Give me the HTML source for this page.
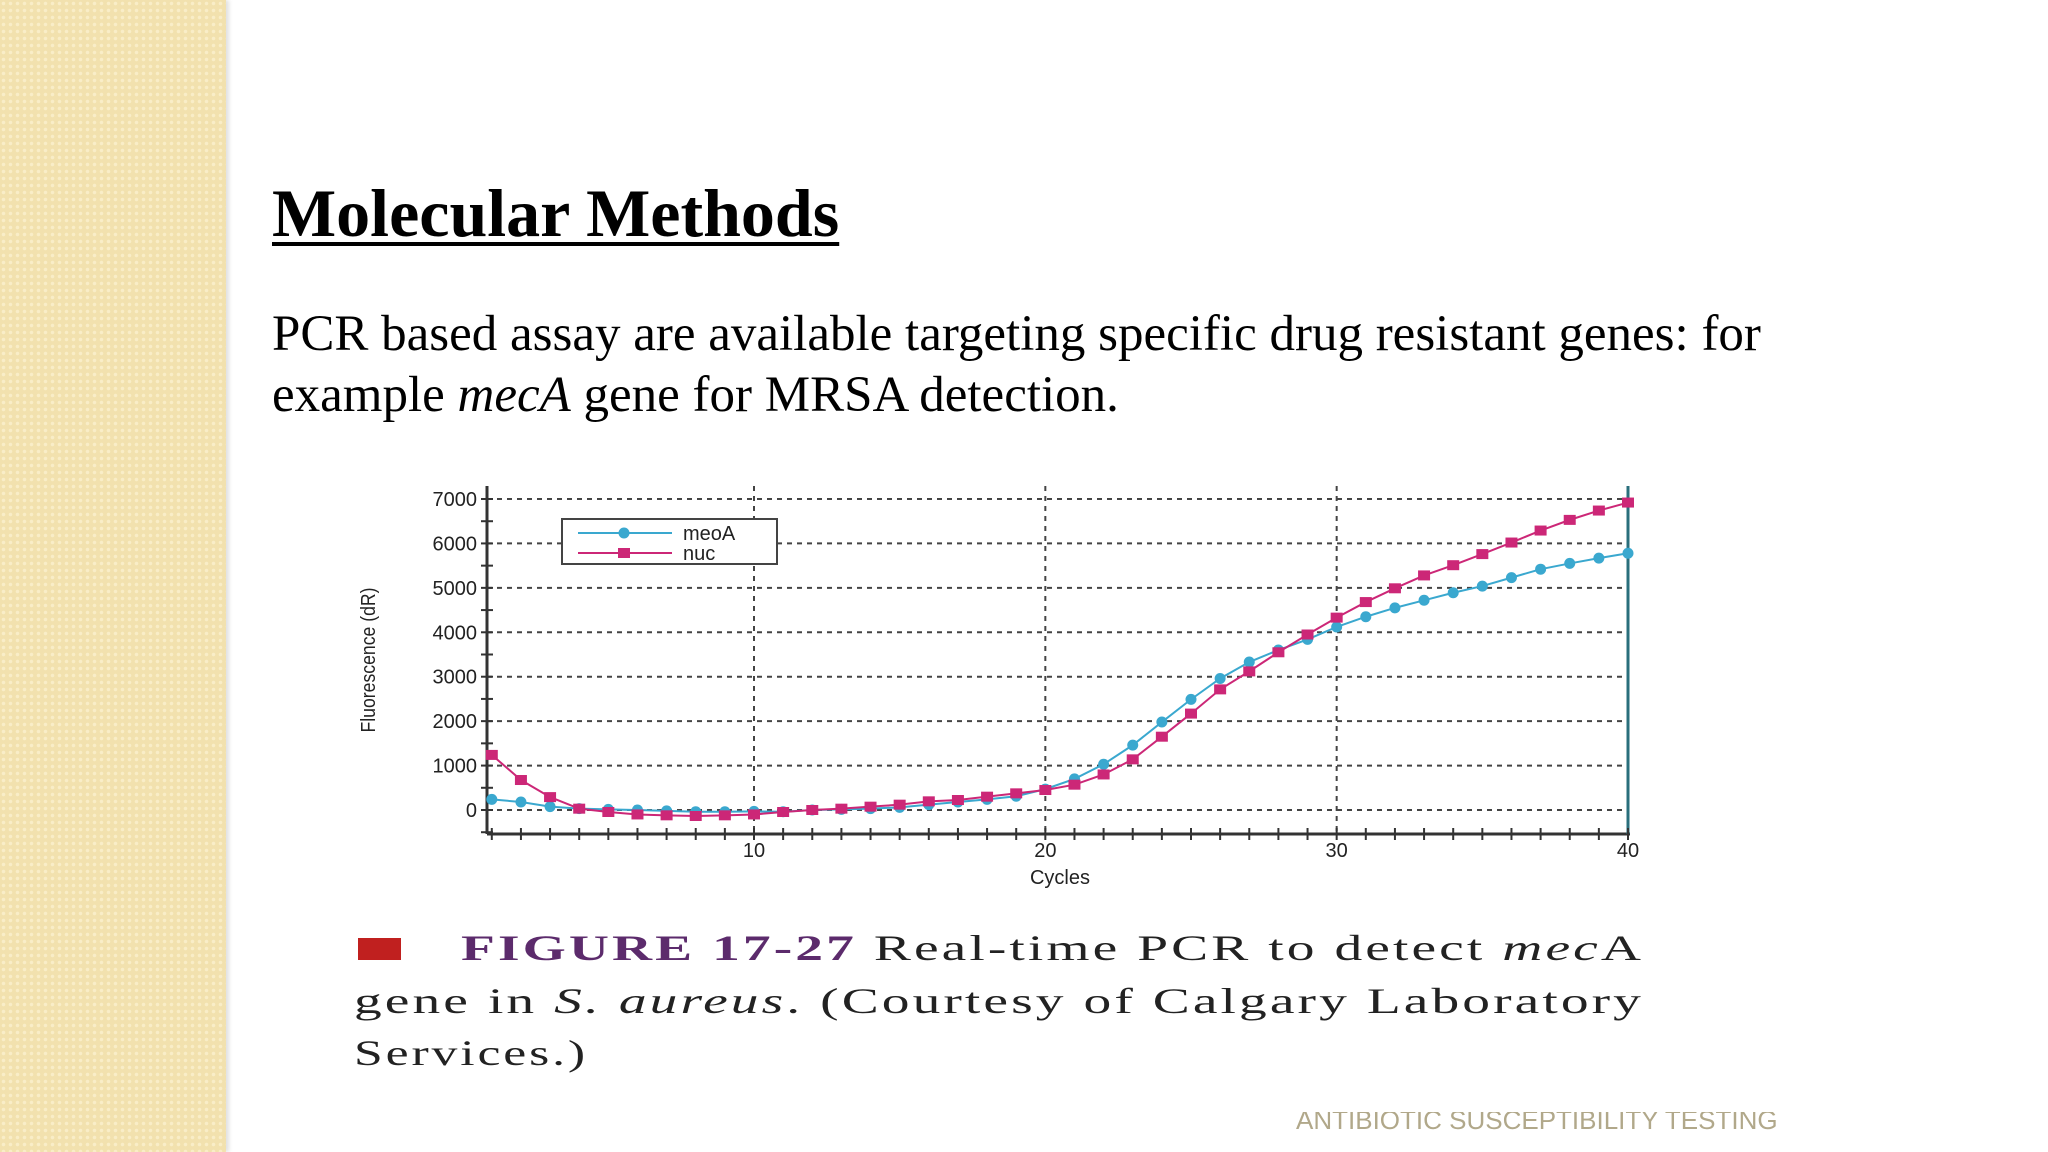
<!DOCTYPE html>
<html><head><meta charset="utf-8"><style>
html,body{margin:0;padding:0;}
body{width:2048px;height:1152px;position:relative;overflow:hidden;background:#fff;font-family:"Liberation Serif",serif;}
#strip{position:absolute;left:0;top:0;width:226px;height:1152px;background-color:#f2e1ae;background-image:radial-gradient(circle,#f9edc8 1.5px,transparent 2px);background-size:7px 7px;box-shadow:3px 0 4px rgba(0,0,0,0.12);}
#title{position:absolute;left:272px;top:174px;font-size:68px;font-weight:bold;text-decoration:underline;text-decoration-thickness:4px;text-underline-offset:6px;color:#000;white-space:nowrap;}
#body{position:absolute;left:272px;top:304px;font-size:51px;line-height:61px;color:#000;white-space:nowrap;}
#footer{position:absolute;left:1296px;top:1112px;height:18px;overflow:hidden;width:520px;}
#footer span{display:block;margin-top:-7px;font-family:"Liberation Sans",sans-serif;font-size:26px;color:#b1a88a;white-space:nowrap;}
</style></head><body>
<div id="strip"></div>
<div id="title">Molecular Methods</div>
<div id="body">PCR based assay are available targeting specific drug resistant genes: for<br>example <i>mecA</i> gene for MRSA detection.</div>
<svg id="chart" width="2048" height="1152" style="position:absolute;left:0;top:0" xmlns="http://www.w3.org/2000/svg">
<rect x="358" y="938" width="43" height="22" fill="#c0201f"/>
<text x="461" y="960" font-family="Liberation Serif,serif" font-size="36" letter-spacing="2" fill="#222" textLength="1183" lengthAdjust="spacingAndGlyphs"><tspan font-weight="bold" fill="#5c2b6c">FIGURE 17-27</tspan> Real-time PCR to detect <tspan font-style="italic">mec</tspan>A</text>
<text x="354" y="1013" font-family="Liberation Serif,serif" font-size="36" letter-spacing="2" fill="#222" textLength="1290" lengthAdjust="spacingAndGlyphs">gene in <tspan font-style="italic">S. aureus</tspan>. (Courtesy of Calgary Laboratory</text>
<text x="354" y="1065" font-family="Liberation Serif,serif" font-size="36" letter-spacing="2" fill="#222" textLength="234" lengthAdjust="spacingAndGlyphs">Services.)</text>
</svg>
<div id="footer"><span>ANTIBIOTIC SUSCEPTIBILITY TESTING</span></div>
<script>
const cycles=[];for(let i=1;i<=40;i++)cycles.push(i);
const meoA=[240,180,75,30,15,0,-20,-40,-40,-30,-40,0,15,30,60,120,180,240,310,470,700,1030,1460,1980,2490,2960,3330,3600,3840,4120,4350,4550,4720,4890,5040,5230,5420,5550,5670,5780];
const nuc=[1240,675,290,30,-45,-100,-120,-135,-120,-100,-45,0,30,75,120,195,225,300,375,450,570,800,1140,1650,2170,2715,3120,3550,3950,4330,4680,4990,5280,5510,5760,6020,6290,6530,6740,6920];
const yTicks=[0,1000,2000,3000,4000,5000,6000,7000];
const xTicks=[10,20,30,40];
const NS="http://www.w3.org/2000/svg";
const svg=document.getElementById('chart');
const X=c=>754+(c-10)*(1628-754)/30;
const Y=v=>810-v*(810-499)/7000;
function mk(t,a){const e=document.createElementNS(NS,t);for(const k in a)e.setAttribute(k,a[k]);svg.appendChild(e);return e;}
const x0=487,yB=834,yT=486,xR=1628;
yTicks.forEach(v=>{const l=mk('line',{x1:x0,x2:xR,y1:Y(v),y2:Y(v),stroke:'#444','stroke-width':2,'stroke-dasharray':'5,5'});


const t=mk('text',{x:477,y:Y(v)+7,'text-anchor':'end','font-family':'Liberation Sans,sans-serif','font-size':20,fill:'#222'});t.textContent=v;

});
xTicks.forEach(c=>{if(c<40){const l=mk('line',{x1:X(c),x2:X(c),y1:yT,y2:yB,stroke:'#444','stroke-width':2,'stroke-dasharray':'5,5'});

}
const t=mk('text',{x:X(c),y:857,'text-anchor':'middle','font-family':'Liberation Sans,sans-serif','font-size':20,fill:'#222'});t.textContent=c;

});
let a=mk('line',{x1:x0,x2:x0,y1:yT,y2:yB,stroke:'#333','stroke-width':3});
a=mk('line',{x1:x0,x2:xR+2,y1:yB,y2:yB,stroke:'#333','stroke-width':3});
a=mk('line',{x1:xR,x2:xR,y1:yT,y2:yB,stroke:'#2a6f7c','stroke-width':3});
for(let c=1;c<=40;c++){const l=mk('line',{x1:X(c),x2:X(c),y1:yB-6,y2:yB+6,stroke:'#333','stroke-width':2});}
for(let v=-500;v<=7000;v+=500){const l=mk('line',{x1:x0-6,x2:x0+6,y1:Y(v),y2:Y(v),stroke:'#333','stroke-width':2});}
let t=mk('text',{x:1060,y:884,'text-anchor':'middle','font-family':'Liberation Sans,sans-serif','font-size':20,fill:'#222'});t.textContent='Cycles';
t=mk('text',{x:375,y:660,'text-anchor':'middle','font-family':'Liberation Sans,sans-serif','font-size':20,fill:'#222',transform:'rotate(-90 375 660)',textLength:145,lengthAdjust:'spacingAndGlyphs'});t.textContent='Fluorescence (dR)';
function series(vals,color,shape,name){
 const p=mk('polyline',{points:vals.map((v,i)=>X(cycles[i])+','+Y(v)).join(' '),fill:'none',stroke:color,'stroke-width':2});
 
 
 vals.forEach((v,i)=>{let m;
  if(shape==='c')m=mk('circle',{cx:X(cycles[i]),cy:Y(v),r:5.5,fill:color});
  else m=mk('rect',{x:X(cycles[i])-6,y:Y(v)-5,width:12,height:10,fill:color});
  
  });
}
series(meoA,'#3aa8cf','c','meoA');
series(nuc,'#cc2777','s','nuc');
let g=mk('rect',{x:562,y:519,width:215,height:45,fill:'#fff',stroke:'#444','stroke-width':2});
mk('line',{x1:578,x2:672,y1:533,y2:533,stroke:'#3aa8cf','stroke-width':2});
mk('circle',{cx:624,cy:533,r:5.5,fill:'#3aa8cf'});
mk('line',{x1:578,x2:672,y1:553,y2:553,stroke:'#cc2777','stroke-width':2});
mk('rect',{x:618,y:548,width:12,height:10,fill:'#cc2777'});
t=mk('text',{x:683,y:540,'font-family':'Liberation Sans,sans-serif','font-size':20,fill:'#222'});t.textContent='meoA';
t=mk('text',{x:683,y:560,'font-family':'Liberation Sans,sans-serif','font-size':20,fill:'#222'});t.textContent='nuc';
</script>
</body></html>
